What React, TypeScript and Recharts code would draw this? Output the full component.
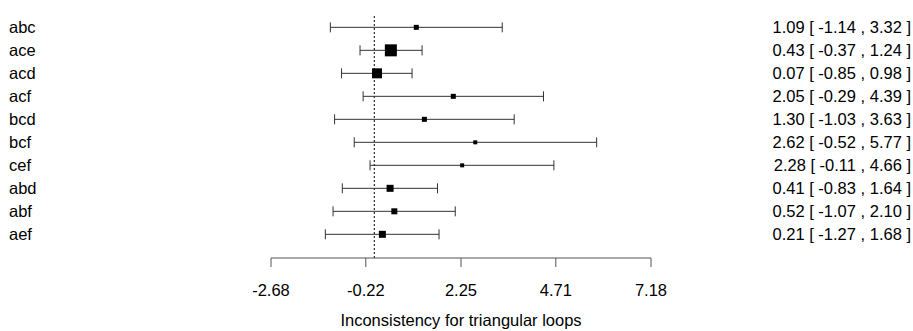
import React from 'react'
import { ScatterChart, Scatter, XAxis, YAxis, ErrorBar, ReferenceLine, Label } from 'recharts'

const loops = ['abc', 'ace', 'acd', 'acf', 'bcd', 'bcf', 'cef', 'abd', 'abf', 'aef']
const estimates = [1.09, 0.43, 0.07, 2.05, 1.3, 2.62, 2.28, 0.41, 0.52, 0.21]
const lower = [-1.14, -0.37, -0.85, -0.29, -1.03, -0.52, -0.11, -0.83, -1.07, -1.27]
const upper = [3.32, 1.24, 0.98, 4.39, 3.63, 5.77, 4.66, 1.64, 2.1, 1.68]
// square side in px, roughly the weight of each loop
const weights = [5, 12, 10, 5, 5, 4, 4, 7, 6, 7]
const xTicks = [-2.68, -0.22, 2.25, 4.71, 7.18]

const data = loops.map((name, i) => ({
  name,
  row: i,
  est: estimates[i],
  err: [estimates[i] - lower[i], upper[i] - estimates[i]],
  w: weights[i],
}))

const FONT = '"Liberation Sans", Arial, sans-serif'
const FS = 16.5

function RowTick(props: any) {
  const { y, payload } = props
  const i = payload.value
  if (i < 0 || i >= loops.length) return null
  const txt = `${estimates[i].toFixed(2)} [ ${lower[i].toFixed(2)} , ${upper[i].toFixed(2)} ]`
  return (
    <g>
      <text x={9} y={y} dy="0.36em" fontSize={FS} fontFamily={FONT} fill="#000" textAnchor="start">
        {loops[i]}
      </text>
      <text x={911} y={y} dy="0.36em" fontSize={FS} fontFamily={FONT} fill="#000" textAnchor="end">
        {txt}
      </text>
    </g>
  )
}

function Square(props: any) {
  const { cx, cy, payload } = props
  const s = payload.w
  return <rect x={cx - s / 2} y={cy - s / 2} width={s} height={s} fill="#000" />
}

export default function App() {
  return (
    <div style={{ position: 'absolute', left: 0, top: 0, background: '#fff' }}>
      <ScatterChart width={913} height={331} margin={{ top: 14, right: 262, bottom: 0, left: 270 }}>
        <XAxis
          type="number"
          dataKey="est"
          domain={[-2.68, 7.18]}
          ticks={xTicks}
          allowDataOverflow
          tickFormatter={(v: number) => v.toFixed(2)}
          tickSize={9}
          tickMargin={17}
          height={73}
          stroke="#555"
          tick={{ fill: '#000', fontSize: FS, fontFamily: FONT }}
        >
          <Label
            value="Inconsistency for triangular loops"
            position="insideBottom"
            offset={5}
            style={{ fill: '#000', fontSize: FS, fontFamily: FONT }}
          />
        </XAxis>
        <YAxis
          type="number"
          dataKey="row"
          domain={[-0.58, 10.03]}
          reversed
          ticks={[0, 1, 2, 3, 4, 5, 6, 7, 8, 9]}
          interval={0}
          allowDataOverflow
          width={1}
          axisLine={false}
          tickLine={false}
          tick={<RowTick />}
        />
        <ReferenceLine x={0} stroke="#000" strokeDasharray="2 2" strokeWidth={1} />
        <Scatter data={data} shape={<Square />} isAnimationActive={false}>
          <ErrorBar dataKey="err" direction="x" width={5} stroke="#333" strokeWidth={1} />
        </Scatter>
      </ScatterChart>
    </div>
  )
}
